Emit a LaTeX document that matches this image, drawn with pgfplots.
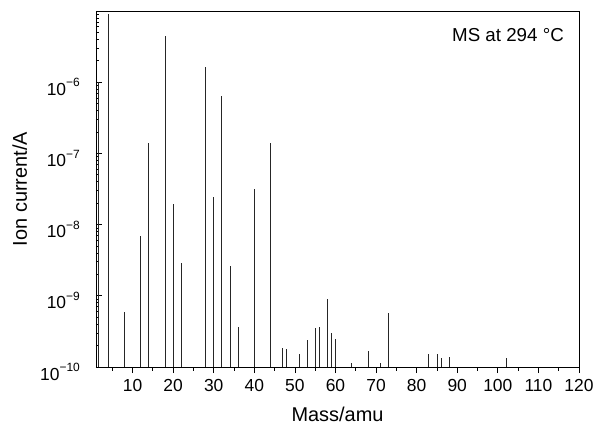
\documentclass[border=0pt]{standalone}
\usepackage{fontspec}
\setmainfont{Liberation Sans}
\usepackage{pgfplots}
\pgfplotsset{compat=1.18}
\usetikzlibrary{calc}

% 10^-n in the text font
\newcommand{\dec}[1]{10\raisebox{8.3bp}{\fontsize{12}{12}\selectfont −#1}}

\begin{document}
\begin{tikzpicture}
\begin{axis}[
    name=ax,
    scale only axis,
    width=483bp, height=356bp,
    xmin=1, xmax=120,
    ymode=log, ymin=1e-10, ymax=1e-5,
    log origin y=infty,
    xtick={10,20,...,120},
    minor xtick={5,15,...,115},
    ytick={1e-10,1e-9,1e-8,1e-7,1e-6},
    minor ytick={2e-10,3e-10,4e-10,5e-10,6e-10,7e-10,8e-10,9e-10,
                 2e-9,3e-9,4e-9,5e-9,6e-9,7e-9,8e-9,9e-9,
                 2e-8,3e-8,4e-8,5e-8,6e-8,7e-8,8e-8,9e-8,
                 2e-7,3e-7,4e-7,5e-7,6e-7,7e-7,8e-7,9e-7,
                 2e-6,3e-6,4e-6,5e-6,6e-6,7e-6,8e-6,9e-6},
    yticklabels={\dec{10},\dec{9},\dec{8},\dec{7},\dec{6}},
    tick pos=left,
    xtick align=outside,
    ytick align=inside,
    major tick length=6bp,
    minor tick length=3.5bp,
    tick style={black, line width=0.7bp},
    axis line style={line width=0.8bp},
    /pgf/number format/assume math mode=true,
    ticklabel style={font=\fontsize{17.5}{20}\selectfont},
    xticklabel style={yshift=-3bp},
    yticklabel style={anchor=base east, inner sep=0pt, xshift=-16bp, yshift=-13bp},
]
\addplot[ycomb, black!85, line width=0.75bp, mark=none] coordinates {
    (1.5, 1.0e-6) (4, 9.0e-6) (8, 5.9e-10) (12, 6.95e-9) (14, 1.40e-7)
    (18, 4.5e-6) (20, 1.97e-8) (22, 2.85e-9) (28, 1.64e-6) (30, 2.44e-8)
    (32, 6.5e-7) (34, 2.59e-9) (36, 3.7e-10) (40, 3.19e-8) (44, 1.39e-7)
    (47, 1.83e-10) (48, 1.8e-10) (51, 1.5e-10) (53, 2.37e-10) (55, 3.5e-10)
    (56, 3.63e-10) (58, 9.1e-10) (59, 3.05e-10) (60, 2.47e-10) (64, 1.13e-10)
    (68, 1.66e-10) (71, 1.14e-10) (73, 5.8e-10) (83, 1.5e-10) (85, 1.5e-10)
    (86, 1.35e-10) (88, 1.38e-10) (102, 1.35e-10)
};
\end{axis}
\node[anchor=north east, inner sep=0pt, font=\fontsize{18.8}{22}\selectfont]
    at ($(ax.north east)+(-15bp,-17bp)$) {MS at 294 °C};
\node[anchor=base, inner sep=0pt, font=\fontsize{20}{24}\selectfont]
    at ($(ax.south)+(0,-54.5bp)$) {Mass/amu};
\node[rotate=90, anchor=base, inner sep=0pt, font=\fontsize{20}{24}\selectfont]
    at ($(ax.west)+(-69bp,0)$) {Ion current/A};
\pgfresetboundingbox
\path ($(ax.south west)+(-96bp,-59bp)$) rectangle ($(ax.north east)+(15bp,11bp)$);
\end{tikzpicture}
\end{document}
